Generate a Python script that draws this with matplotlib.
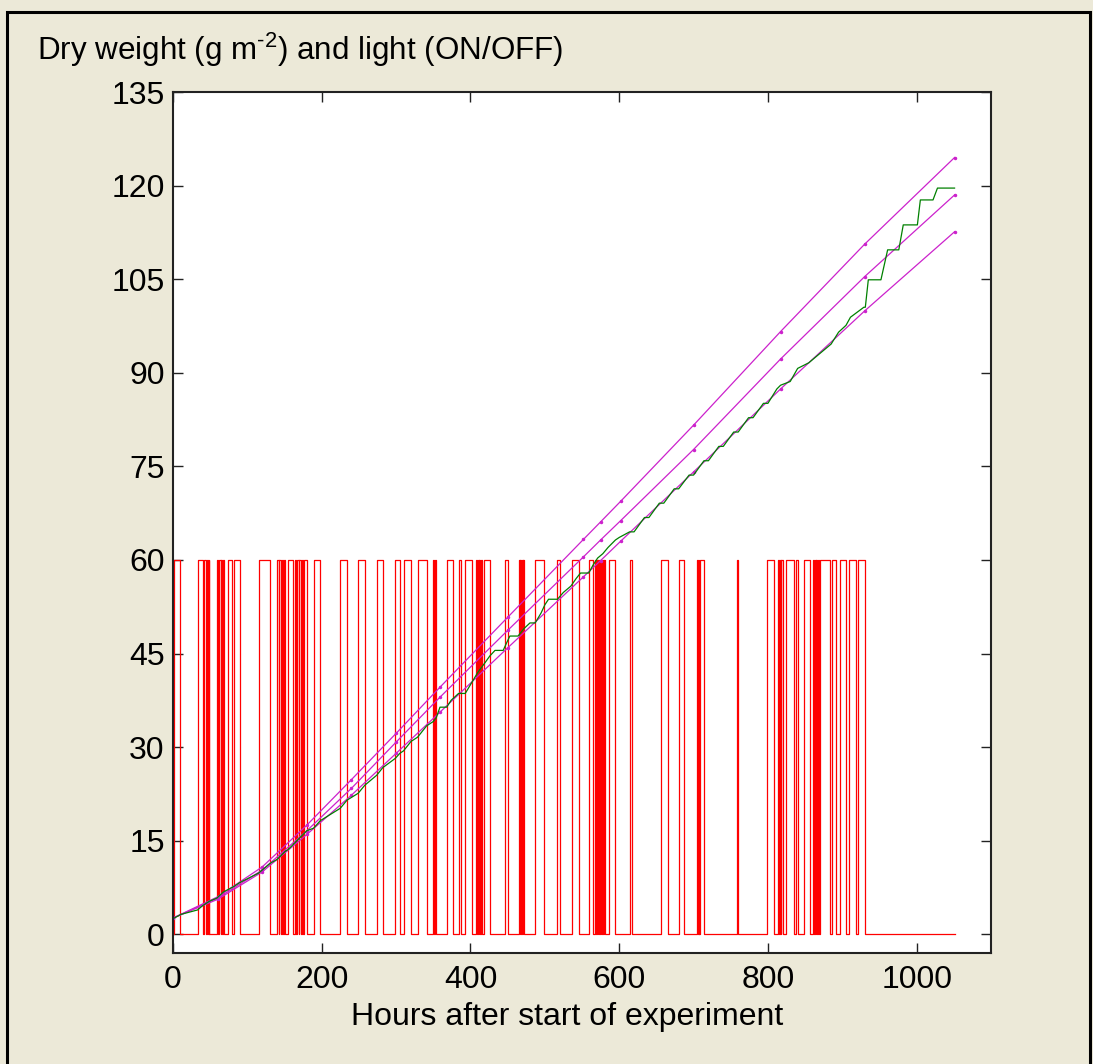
import matplotlib
matplotlib.use("Agg")
import matplotlib.pyplot as plt
from matplotlib.patches import Rectangle
import numpy as np

plt.rcParams["font.family"] = ["Liberation Sans", "DejaVu Sans"]
plt.rcParams["mathtext.fontset"] = "custom"
plt.rcParams["mathtext.rm"] = "Liberation Sans"
plt.rcParams["mathtext.it"] = "Liberation Sans:italic"

# Light ON periods (hours after start), light level drawn as 60 when ON
light_on = [
    (2, 10), (33, 40), (42, 45), (46, 47), (48, 49), (59, 61), (62, 64), (65, 66), (67, 68),
    (74, 80), (82, 90), (115, 131), (140, 142), (143, 145), (146, 148), (149, 151),
    (155, 162), (164, 166), (167, 169), (170, 172), (173, 175), (176, 180),
    (189, 198), (225, 234), (249, 258), (274, 282), (299, 305), (310, 320),
    (329, 341), (350, 351), (352, 354), (368, 377), (384, 387), (393, 402),
    (408, 409), (410, 411), (412, 413), (414, 415), (418, 426), (446, 451),
    (465, 466), (467, 468), (469, 470), (471, 472), (487, 499), (517, 520),
    (537, 546), (559, 565), (568, 569), (570, 571), (572, 573), (574, 575),
    (576, 577), (578, 579), (580, 581), (586, 594), (615, 617), (656, 665),
    (680, 687), (705, 706), (707, 708), (709, 714), (759, 760),
    (799, 808), (814, 815), (816, 817), (818, 820), (824, 835), (838, 841),
    (848, 856), (861, 862), (863, 864), (865, 866), (867, 869), (870, 883),
    (886, 891), (897, 905), (909, 919), (921, 930),
]
end_hour = 1051

# Dry weight measurements (hours, g m-2)
dw_hours = [0, 11, 33, 40, 49, 59, 68, 81, 90, 115, 131, 140, 151, 155, 180, 189, 198,
            225, 234, 249, 258, 274, 282, 299, 305, 310, 320, 329, 341, 350, 354,
            359, 368, 374, 384, 393, 400, 410, 420, 426, 433, 444, 449, 453, 464,
            472, 480, 487, 495, 500, 505, 517, 525, 535, 542, 548, 559, 565, 571,
            578, 585, 595, 600, 614, 620, 634, 640, 654, 660, 674, 680, 694, 700,
            714, 720, 734, 740, 754, 760, 774, 780, 794, 800, 812, 817, 830, 840,
            855, 875, 885, 895, 905, 911, 929, 931, 935, 952, 961, 976, 982, 1001,
            1005, 1022, 1028, 1051]
dw_values = [2.5, 3.2, 3.9, 4.6, 5.3, 5.8, 6.8, 7.6, 8.3, 9.8, 11.4, 12.0, 13.3, 13.6,
             16.6, 17.0, 18.2, 20.2, 21.5, 22.6, 23.9, 25.5, 26.7, 28.2, 29.0, 29.4,
             30.9, 31.6, 33.4, 34.1, 34.7, 36.4, 36.4, 37.5, 38.6, 38.6, 40.0, 42.0,
             43.6, 44.6, 45.5, 45.5, 46.8, 47.8, 47.8, 49.0, 49.9, 49.9, 51.5, 52.8,
             53.7, 53.7, 54.8, 55.8, 57.0, 57.9, 57.9, 59.2, 60.3, 61.0, 62.0, 63.2,
             63.6, 64.5, 64.5, 66.8, 66.8, 69.1, 69.1, 71.4, 71.4, 73.6, 73.6, 75.9,
             75.9, 78.2, 78.2, 80.5, 80.5, 82.8, 82.8, 85.1, 85.1, 87.4, 88.0, 88.6,
             90.7, 91.6, 93.6, 94.6, 96.5, 97.6, 98.9, 100.5, 100.5, 104.9, 104.9,
             109.7, 109.7, 113.7, 113.7, 117.7, 117.7, 119.6, 119.6]

# Model predictions (upper, middle, lower)
model_hours = [0, 60, 120, 180, 240, 300, 359, 450, 552, 575, 602, 700, 817, 930, 1051]
model_upper = [2.6, 6.0, 10.8, 17.5, 24.8, 32.2, 39.6, 50.8, 63.3, 66.1, 69.4, 81.6, 96.6, 110.6, 124.5]
model_mid = [2.6, 5.8, 10.3, 16.6, 23.4, 30.8, 38.0, 48.7, 60.5, 63.2, 66.3, 77.7, 92.2, 105.4, 118.5]
model_low = [2.6, 5.6, 10.0, 16.0, 22.3, 29.0, 35.6, 45.9, 57.3, 59.9, 63.0, 74.1, 87.4, 99.9, 112.6]

# build step series for the light
lt_x = [0]
lt_y = [0]
for a, b in light_on:
    lt_x += [a, a, b, b]
    lt_y += [0, 60, 60, 0]
lt_x.append(end_hour)
lt_y.append(0)

fig = plt.figure(figsize=(10.93, 10.64), dpi=100, facecolor="#ECE9D8")
fig.patches.append(Rectangle((7 / 1093, -0.01), (1090 - 7) / 1093, 1 - 12 / 1064 + 0.01,
                             transform=fig.transFigure, fill=False, edgecolor="black",
                             linewidth=2.2))

ax = fig.add_axes([173 / 1093, 1 - 953 / 1064, (991 - 173) / 1093, (953 - 92) / 1064])
ax.set_facecolor("white")

ax.plot(lt_x, lt_y, color="#FF0000", linewidth=0.9)
for vals in (model_upper, model_mid, model_low):
    ax.plot(model_hours, vals, color="#CC22CC", linewidth=0.9,
            marker=".", markersize=3)
ax.plot(dw_hours, dw_values, color="#008000", linewidth=0.9)

ax.set_xlim(0, 1100)
ax.set_ylim(-3, 135)
ax.set_xticks([0, 200, 400, 600, 800, 1000])
ax.set_yticks(np.arange(0, 136, 15))
ax.tick_params(direction="in", length=7, width=1, labelsize=23, top=True, right=True,
               color="#222222")
ax.tick_params(axis="x", pad=9)
ax.tick_params(axis="y", pad=6)
for s in ax.spines.values():
    s.set_linewidth(1.5)
    s.set_color("#222222")

fig.text(37 / 1093, 1 - 50 / 1064, r"Dry weight (g m$^{\text{-2}}$) and light (ON/OFF)",
         fontsize=22.6, ha="left", va="center")
fig.text(567 / 1093, 1 - 1017 / 1064, "Hours after start of experiment",
         fontsize=23, ha="center", va="center")

fig.savefig("out.png", dpi=100, facecolor=fig.get_facecolor())
